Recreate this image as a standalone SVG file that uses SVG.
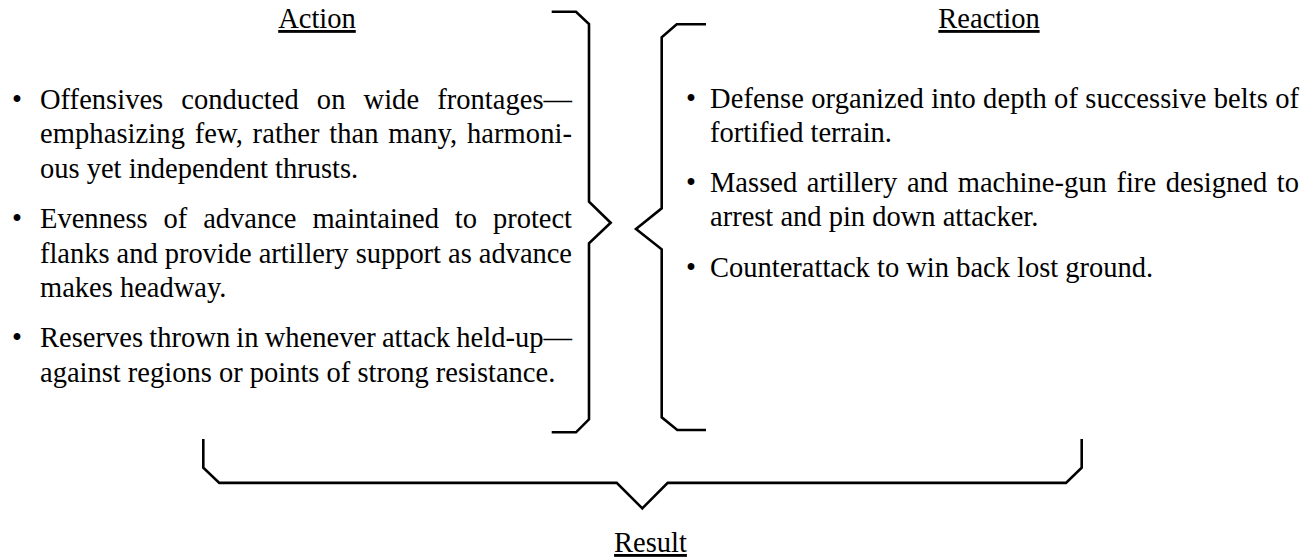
<svg xmlns="http://www.w3.org/2000/svg" width="1309" height="557" viewBox="0 0 1309 557">
  <style>
    text { font-family: "Liberation Serif", "Times New Roman", serif; font-size: 28.5px; fill: #000; }
    .head { text-anchor: middle; text-decoration: underline; }
    .dot { text-anchor: middle; }
    .brace { fill: none; stroke: #000; stroke-width: 2.6; stroke-linejoin: miter; stroke-linecap: butt; }
  </style>
  <rect width="1309" height="557" fill="#fff"/>

  <!-- Left column: the attacking side -->
  <g id="action">
    <text class="head" x="317" y="28">Action</text>
    <text class="dot" x="17" y="108.5">•</text>
    <text x="40" y="108.5" word-spacing="11" textLength="532" lengthAdjust="spacing">Offensives conducted on wide frontages—</text>
    <text x="40" y="143" word-spacing="2.4" textLength="532" lengthAdjust="spacing">emphasizing few, rather than many, harmoni-</text>
    <text x="40" y="177.5">ous yet independent thrusts.</text>
    <text class="dot" x="17" y="228">•</text>
    <text x="40" y="228" word-spacing="8.8" textLength="532" lengthAdjust="spacing">Evenness of advance maintained to protect</text>
    <text x="40" y="262.5" textLength="532" lengthAdjust="spacing">flanks and provide artillery support as advance</text>
    <text x="40" y="297">makes headway.</text>
    <text class="dot" x="17" y="347">•</text>
    <text x="40" y="347" word-spacing="-1" textLength="532" lengthAdjust="spacing">Reserves thrown in whenever attack held-up—</text>
    <text x="40" y="381.5">against regions or points of strong resistance.</text>
  </g>

  <!-- Right column: the defending side -->
  <g id="reaction">
    <text class="head" x="989" y="28">Reaction</text>
    <text class="dot" x="691" y="107.5">•</text>
    <text x="710" y="107.5" textLength="589" lengthAdjust="spacing">Defense organized into depth of successive belts of</text>
    <text x="710" y="142">fortified terrain.</text>
    <text class="dot" x="691" y="191.5">•</text>
    <text x="710" y="191.5" word-spacing="2.5" textLength="589" lengthAdjust="spacing">Massed artillery and machine-gun fire designed to</text>
    <text x="710" y="226">arrest and pin down attacker.</text>
    <text class="dot" x="691" y="276.5">•</text>
    <text x="710" y="276.5">Counterattack to win back lost ground.</text>
  </g>

  <!-- Outcome label under the joining brace -->
  <g id="result">
    <text class="head" x="650.5" y="552">Result</text>
  </g>

  <!-- Braces linking the columns -->
  <g id="connectors">
    <path class="brace" d="M551.7,11.7 H576 L589,24 V201.7 L610.7,222.7 L589,243.3 V419.3 L576,432.3 H551.7"/>
    <path class="brace" d="M706,24.3 H676.7 L661.7,37.3 V208.3 L636,229 L661.7,249.3 V417.3 L677.3,430 H706"/>
    <path class="brace" d="M203.3,439 V467.7 L219.3,482.9 H616.7 L642.3,508.3 L667.7,482.9 H1066 L1081.7,467.7 V439"/>
  </g>
</svg>
